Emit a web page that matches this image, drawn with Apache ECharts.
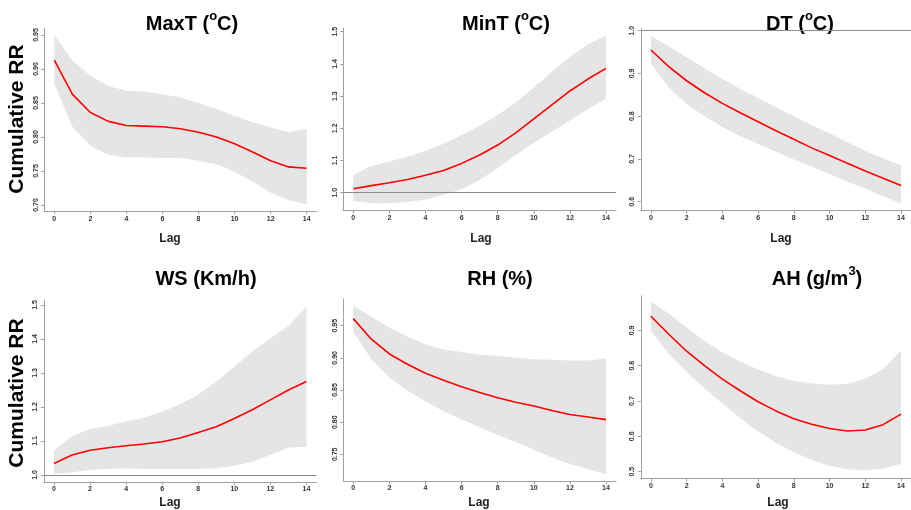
<!DOCTYPE html>
<html>
<head>
<meta charset="utf-8">
<script src="https://cdn.jsdelivr.net/npm/echarts@6/dist/echarts.min.js"></script>
<style>
html,body{margin:0;padding:0;background:#fff;}
#c{width:911px;height:510px;}
</style>
</head>
<body>
<div id="c"></div>
<script>
// ---------- DATA ----------
const lags = [0,1,2,3,4,5,6,7,8,9,10,11,12,13,14];

const maxTMid = [0.913,0.863,0.836,0.823,0.817,0.816,0.815,0.812,0.807,0.800,0.790,0.778,0.765,0.756,0.754];
const maxTHi  = [0.950,0.913,0.890,0.875,0.868,0.867,0.863,0.858,0.850,0.841,0.831,0.822,0.814,0.807,0.812];
const maxTLo  = [0.878,0.815,0.787,0.774,0.770,0.770,0.769,0.769,0.765,0.760,0.749,0.734,0.718,0.707,0.701];

const minTMid = [1.012,1.022,1.031,1.041,1.054,1.069,1.091,1.117,1.148,1.186,1.229,1.273,1.316,1.353,1.386];
const minTHi  = [1.055,1.083,1.098,1.112,1.130,1.152,1.179,1.208,1.241,1.280,1.327,1.376,1.422,1.461,1.488];
const minTLo  = [0.974,0.967,0.967,0.971,0.979,0.993,1.011,1.039,1.076,1.117,1.155,1.189,1.224,1.259,1.292];

const dtMid = [0.955,0.916,0.883,0.855,0.830,0.808,0.787,0.766,0.746,0.726,0.708,0.690,0.672,0.655,0.638];
const dtHi  = [0.988,0.963,0.938,0.912,0.887,0.864,0.843,0.821,0.800,0.779,0.760,0.739,0.719,0.701,0.686];
const dtLo  = [0.924,0.867,0.828,0.800,0.775,0.754,0.735,0.717,0.699,0.682,0.665,0.647,0.631,0.613,0.596];

const wsMid = [1.034,1.059,1.073,1.080,1.086,1.091,1.098,1.109,1.125,1.142,1.166,1.192,1.221,1.250,1.275];
const wsHi  = [1.071,1.115,1.135,1.145,1.157,1.169,1.186,1.209,1.237,1.275,1.319,1.363,1.402,1.438,1.495];
const wsLo  = [1.003,1.008,1.015,1.018,1.020,1.018,1.018,1.018,1.018,1.020,1.027,1.039,1.059,1.080,1.083];

const rhMid = [0.961,0.929,0.906,0.890,0.876,0.865,0.855,0.846,0.838,0.831,0.825,0.818,0.812,0.808,0.804];
const rhHi  = [0.981,0.964,0.947,0.933,0.921,0.913,0.909,0.905,0.903,0.900,0.898,0.897,0.896,0.896,0.899];
const rhLo  = [0.940,0.898,0.869,0.849,0.832,0.817,0.804,0.792,0.780,0.769,0.757,0.745,0.735,0.727,0.719];

const ahMid = [0.940,0.889,0.841,0.800,0.762,0.729,0.698,0.672,0.650,0.634,0.622,0.615,0.618,0.633,0.663];
const ahHi  = [0.981,0.948,0.908,0.870,0.838,0.812,0.789,0.771,0.757,0.750,0.746,0.749,0.763,0.791,0.844];
const ahLo  = [0.898,0.833,0.782,0.736,0.693,0.652,0.614,0.582,0.555,0.533,0.517,0.507,0.503,0.508,0.522];

const xTicks = [0,2,4,6,8,10,12,14];
const maxTTicks = [0.70,0.75,0.80,0.85,0.90,0.95];
const minTTicks = [1.0,1.1,1.2,1.3,1.4,1.5];
const dtTicks   = [0.6,0.7,0.8,0.9,1.0];
const wsTicks   = [1.0,1.1,1.2,1.3,1.4,1.5];
const rhTicks   = [0.75,0.80,0.85,0.90,0.95];
const ahTicks   = [0.5,0.6,0.7,0.8,0.9];

const titleNames = ['MaxT (', 'MinT (', 'DT (', 'WS (Km/h)', 'RH (%)', 'AH (g/m'];
const yLabel = 'Cumulative RR';
const xLabel = 'Lag';
const refValue = 1;

// ---------- LAYOUT ----------
const panels = [
  {mid:maxTMid, hi:maxTHi, lo:maxTLo, ticks:maxTTicks, dec:2, yMin:0.691, yMax:0.960, grid:{left:44.2, top:28.2, width:272.6, height:182.9}, title:{x:192, y:22}, lag:{x:170, y:239}},
  {mid:minTMid, hi:minTHi, lo:minTLo, ticks:minTTicks, dec:1, yMin:0.944, yMax:1.511, grid:{left:343.2, top:28.2, width:272.9, height:182.5}, title:{x:506, y:22}, lag:{x:481, y:239}},
  {mid:dtMid,   hi:dtHi,   lo:dtLo,   ticks:dtTicks,   dec:1, yMin:0.579, yMax:1.005, grid:{left:640.9, top:28.6, width:272.5, height:182.1}, title:{x:800, y:22}, lag:{x:781, y:239}},
  {mid:wsMid,   hi:wsHi,   lo:wsLo,   ticks:wsTicks,   dec:1, yMin:0.980, yMax:1.515, grid:{left:43.9, top:299.9, width:272.6, height:181.9}, title:{x:206, y:277}, lag:{x:170, y:503}},
  {mid:rhMid,   hi:rhHi,   lo:rhLo,   ticks:rhTicks,   dec:2, yMin:0.7085, yMax:0.9915, grid:{left:343.2, top:299.0, width:272.9, height:182.0}, title:{x:500, y:277}, lag:{x:479, y:503}},
  {mid:ahMid,   hi:ahHi,   lo:ahLo,   ticks:ahTicks,   dec:1, yMin:0.480, yMax:0.998, grid:{left:640.9, top:295.8, width:272.5, height:182.9}, title:{x:817, y:277}, lag:{x:778, y:503}}
];
const superscripts = [['o','C)'], ['o','C)'], ['o','C)'], null, null, ['3',')']];

const axisGray = '#a0a0a0';
const labelStyle = {fontSize:7, fontWeight:'bold', color:'#333', fontFamily:'Liberation Sans'};

const grids = [], xAxes = [], yAxes = [], series = [], graphics = [];

panels.forEach((p, i) => {
  grids.push(Object.assign({containLabel:false}, p.grid));
  xAxes.push({
    type:'value', gridIndex:i, min:-0.56, max:14.56,
    splitLine:{show:false},
    axisLine:{show:true, onZero:false, lineStyle:{color:axisGray, width:1}},
    axisTick:{show:true, length:3, lineStyle:{color:axisGray}, customValues:xTicks},
    axisLabel:Object.assign({margin:4, customValues:xTicks, formatter:v=>String(v)}, labelStyle)
  });
  yAxes.push({
    type:'value', gridIndex:i, min:p.yMin, max:p.yMax,
    splitLine:{show:false},
    axisLine:{show:true, onZero:false, lineStyle:{color:axisGray, width:1}},
    axisTick:{show:true, length:3, lineStyle:{color:axisGray}, customValues:p.ticks},
    axisLabel:Object.assign({margin:5, rotate:90, customValues:p.ticks, formatter:v=>v.toFixed(p.dec)}, labelStyle)
  });
  const hi = p.hi, lo = p.lo;
  series.push({
    type:'custom', xAxisIndex:i, yAxisIndex:i, silent:true, z:1,
    data:[[lags[0], p.mid[0]]],
    renderItem:(params, api) => {
      const pts = [];
      for (let k = 0; k < lags.length; k++) pts.push(api.coord([lags[k], hi[k]]));
      for (let k = lags.length - 1; k >= 0; k--) pts.push(api.coord([lags[k], lo[k]]));
      return {type:'polygon', shape:{points:pts}, style:{fill:'#e5e5e5'}};
    }
  });
  const line = {
    type:'line', xAxisIndex:i, yAxisIndex:i, z:3, silent:true,
    data:lags.map((l, k) => [l, p.mid[k]]),
    showSymbol:false, symbol:'none',
    lineStyle:{color:'#ff0000', width:1.6}
  };
  if (refValue > p.yMin && refValue < p.yMax) {
    line.markLine = {silent:true, symbol:'none', label:{show:false}, z:2,
      lineStyle:{color:'#8c8c8c', type:'solid', width:1},
      data:[{yAxis:refValue}]};
  }
  series.push(line);

  // title
  const sup = superscripts[i];
  const txt = sup ? '{a|' + titleNames[i] + '}{s|' + sup[0] + '}{a|' + sup[1] + '}' : '{a|' + titleNames[i] + '}';
  graphics.push({
    type:'text', x:p.title.x, y:p.title.y,
    style:{text:txt, align:'center', verticalAlign:'middle', fill:'#000',
      rich:{
        a:{fontSize:20, fontWeight:'bold', fontFamily:'Liberation Sans', lineHeight:24, fill:'#000', verticalAlign:'bottom'},
        s:{fontSize:13, fontWeight:'bold', fontFamily:'Liberation Sans', lineHeight:13, fill:'#000', verticalAlign:'top'}
      }}
  });
  graphics.push({
    type:'text', x:p.lag.x, y:p.lag.y,
    style:{text:xLabel, align:'center', verticalAlign:'middle', fill:'#222',
      font:'bold 12px "Liberation Sans"'}
  });
});

graphics.push({type:'text', x:17, y:119, rotation:Math.PI/2,
  style:{text:yLabel, align:'center', verticalAlign:'middle', fill:'#000', font:'bold 21px "Liberation Sans"'}});
graphics.push({type:'text', x:17, y:393, rotation:Math.PI/2,
  style:{text:yLabel, align:'center', verticalAlign:'middle', fill:'#000', font:'bold 21px "Liberation Sans"'}});

const chart = echarts.init(document.getElementById('c'), null, {renderer:'canvas'});
chart.setOption({
  animation:false,
  backgroundColor:'#fff',
  grid:grids, xAxis:xAxes, yAxis:yAxes, series:series,
  graphic:graphics
});
</script>
</body>
</html>
